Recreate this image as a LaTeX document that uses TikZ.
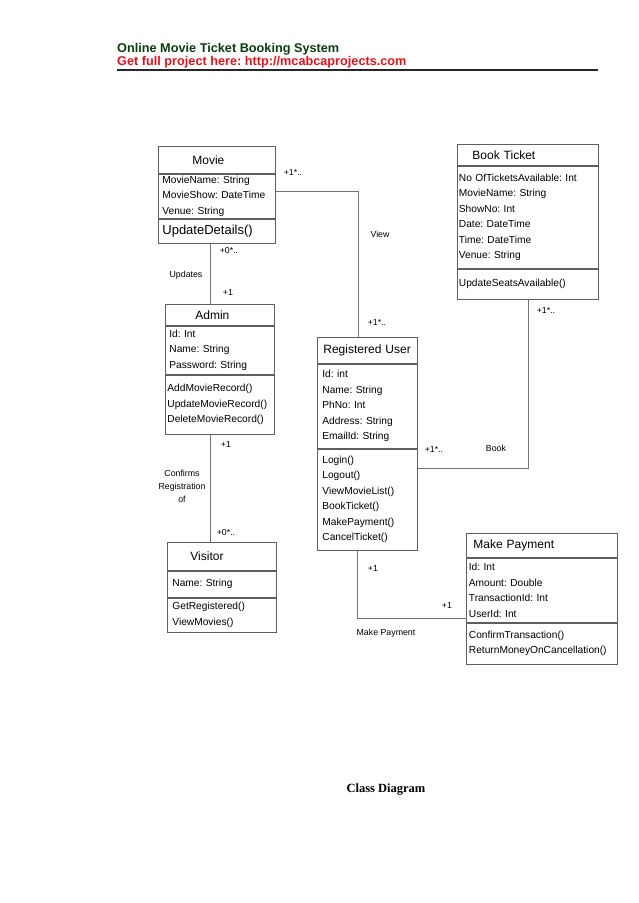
\documentclass[tikz,border=0pt]{standalone}
\usepackage{fontspec}
\setmainfont{Liberation Sans}
\newfontfamily\captionfont{Liberation Serif}
\usetikzlibrary{positioning}
\frenchspacing

\definecolor{boxgray}{RGB}{95,95,95}
\definecolor{linkgray}{RGB}{115,115,115}
\definecolor{headgreen}{RGB}{10,60,15}
\definecolor{headred}{RGB}{225,20,30}

\tikzset{
	classhead/.style={draw=boxgray, line width=0.8pt, anchor=north west, inner xsep=0pt, inner ysep=0pt, align=left, font=\fontsize{12}{14}\selectfont},
	classpart/.style={draw=boxgray, line width=0.8pt, anchor=north, inner xsep=#1, inner ysep=0pt, align=left, font=\fontsize{10.2}{15.5}\selectfont},
	classpart/.default=4pt,
	assoc/.style={draw=linkgray, line width=0.8pt},
	tag/.style={font=\fontsize{8.8}{13}\selectfont, inner sep=0pt, align=center}
}

\begin{document}
\begin{tikzpicture}[x=1pt,y=-1pt]
	\useasboundingbox (0,0) rectangle (638,903);

	% header
	\node (head1) at (117,52) [anchor=base west, inner sep=0pt, text=headgreen, font=\bfseries\fontsize{12.7}{15}\selectfont] {Online Movie Ticket Booking System};
	\node (head2) at (117,65) [anchor=base west, inner sep=0pt, text=headred, font=\bfseries\fontsize{12.7}{15}\selectfont] {Get full project here: http://mcabcaprojects.com};
	\draw[line width=2pt, black!85] (117,70) -- (598,70);

	% Movie
	\node (movie) at (158,146) [classhead, text width=117pt, minimum height=27pt] {\hspace*{34pt}Movie};
	\node (movieattr) [classpart, text width=109pt, minimum height=44pt, below=0pt of movie] {MovieName: String\\MovieShow: DateTime\\Venue: String};
	\node (movieops) [classpart, text width=109pt, minimum height=24pt, below=0pt of movieattr, font=\fontsize{13}{15}\selectfont] {UpdateDetails()};

	% Book Ticket
	\node (book) at (457,144) [classhead, text width=141pt, minimum height=21pt] {\hspace*{15pt}Book Ticket};
	\node (bookattr) [classpart=1.5pt, text width=138pt, minimum height=102pt, below=0pt of book] {No OfTicketsAvailable: Int\\MovieName: String\\ShowNo: Int\\Date: DateTime\\Time: DateTime\\Venue: String};
	\node (bookops) [classpart=1.5pt, text width=138pt, minimum height=30pt, below=0pt of bookattr] {UpdateSeatsAvailable()};

	% Admin
	\node (admin) at (165,304) [classhead, text width=109pt, minimum height=21pt] {\hspace*{30pt}Admin};
	\node (adminattr) [classpart, text width=101pt, minimum height=48pt, below=0pt of admin] {Id: Int\\Name: String\\Password: String};
	\node (adminops) [classpart=2pt, text width=105pt, minimum height=59pt, below=0pt of adminattr] {AddMovieRecord()\\UpdateMovieRecord()\\DeleteMovieRecord()};

	% Registered User
	\node (ru) at (317,337) [classhead, text width=100pt, minimum height=26pt] {\hspace*{6pt}Registered User};
	\node (ruattr) [classpart=5pt, text width=90pt, minimum height=84pt, below=0pt of ru] {Id: int\\Name: String\\PhNo: Int\\Address: String\\EmailId: String};
	\node (ruops) [classpart=5pt, text width=90pt, minimum height=101pt, below=0pt of ruattr] {Login()\\Logout()\\ViewMovieList()\\BookTicket()\\MakePayment()\\CancelTicket()};

	% Visitor
	\node (visitor) at (167,542) [classhead, text width=109pt, minimum height=28pt] {\hspace*{23pt}Visitor};
	\node (visitorattr) [classpart=5pt, text width=99pt, minimum height=26pt, below=0pt of visitor] {Name: String};
	\node (visitorops) [classpart=5pt, text width=99pt, minimum height=34pt, below=0pt of visitorattr] {GetRegistered()\\ViewMovies()};

	% Make Payment
	\node (pay) at (466,533) [classhead, text width=151pt, minimum height=24pt] {\hspace*{7pt}Make Payment};
	\node (payattr) [classpart=2.5pt, text width=146pt, minimum height=64pt, below=0pt of pay] {Id: Int\\Amount: Double\\TransactionId: Int\\UserId: Int};
	\node (payops) [classpart=2.5pt, text width=146pt, minimum height=41pt, below=0pt of payattr] {ConfirmTransaction()\\ReturnMoneyOnCancellation()};

	% associations
	\draw[assoc] ([yshift=5pt]movieattr.east) -| ([xshift=-9pt]ru.north);
	\draw[assoc] ([xshift=-6.5pt]movieops.south) -- ([xshift=-9.5pt]admin.north);
	\draw[assoc] ([xshift=-9.5pt]adminops.south) -- ([xshift=-11.5pt]visitor.north);
	\draw[assoc] (bookops.south) |- ([yshift=31.5pt]ruops.east);
	\draw[assoc] ([xshift=-10pt]ruops.south) |- ([yshift=-28pt]payattr.west);

	% labels
	\node (viewm) at (293,172) [tag] {+1*..};
	\node (view) at (380,234) [tag] {View};
	\node (viewr) at (377,322) [tag] {+1*..};
	\node (updm) at (229,250) [tag] {+0*..};
	\node (upd) at (186,275) [tag] {Updates};
	\node (upda) at (228,292) [tag] {+1};
	\node (confa) at (226,444) [tag] {+1};
	\node (conf) at (182,486) [tag] {Confirms\\Registration\\of};
	\node (confv) at (226,532) [tag] {+0*..};
	\node (bookb) at (546,310) [tag] {+1*..};
	\node (bookr) at (434,449) [tag] {+1*..};
	\node (booking) at (496,448) [tag] {Book};
	\node (payr) at (373,568) [tag] {+1};
	\node (payp) at (447,605) [tag] {+1};
	\node (paying) at (386,633) [tag] {Make Payment};

	\node (caption) at (386,792) [anchor=base, inner sep=0pt, font=\captionfont\bfseries\fontsize{12.5}{15}\selectfont] {Class Diagram};
\end{tikzpicture}
\end{document}
